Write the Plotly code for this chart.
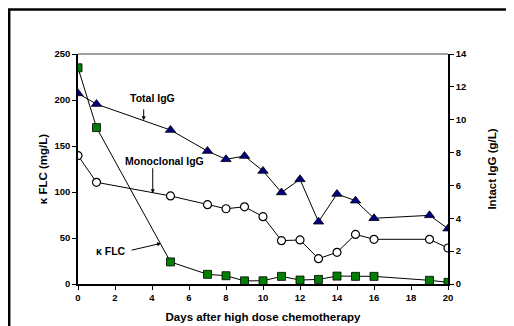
import plotly.graph_objects as go

days_flc = [0, 1, 5, 7, 8, 9, 10, 11, 12, 13, 14, 15, 16, 19, 20]
kappa_flc = [235, 170, 24, 10.5, 9, 3.4, 3.5, 8.3, 4.3, 5, 8.6, 8.3, 8.3, 4, 1.8]

days_igg = [0, 1, 5, 7, 8, 9, 10, 11, 12, 13, 14, 15, 16, 19, 20]
total_igg = [11.6, 10.95, 9.37, 8.09, 7.59, 7.79, 6.88, 5.57, 6.37, 3.79, 5.48, 5.07, 4.0, 4.18, 3.37]
mono_igg = [7.82, 6.19, 5.36, 4.83, 4.58, 4.70, 4.10, 2.64, 2.68, 1.54, 1.93, 3.02, 2.72, 2.72, 2.19]

x_ticks = list(range(0, 21, 2))
left_ticks = list(range(0, 251, 50))
right_ticks = list(range(0, 15, 2))

FONT = "Liberation Sans, Arial, sans-serif"
tickfont = dict(family=FONT, size=9.5, color="black", weight=700)
titlefont = dict(family=FONT, size=11.5, color="black", weight=700)

fig = go.Figure()
fig.add_trace(go.Scatter(
    x=days_igg, y=total_igg, yaxis="y2", mode="lines+markers",
    line=dict(color="black", width=1),
    marker=dict(symbol="triangle-up", size=9, color="#000080", line=dict(color="black", width=0.8)),
    showlegend=False))
fig.add_trace(go.Scatter(
    x=days_igg, y=mono_igg, yaxis="y2", mode="lines+markers",
    line=dict(color="black", width=1),
    marker=dict(symbol="circle", size=8, color="white", line=dict(color="black", width=1.2)),
    showlegend=False))
fig.add_trace(go.Scatter(
    x=days_flc, y=kappa_flc, yaxis="y", mode="lines+markers",
    line=dict(color="black", width=1),
    marker=dict(symbol="square", size=8, color="#008000", line=dict(color="black", width=0.8)),
    showlegend=False))

ann_font = dict(family=FONT, size=10.5, color="black", weight=700)
annotations = [
    dict(x=4.0, y=202, xref="x", yref="y", text="Total IgG", showarrow=False, font=ann_font),
    dict(x=4.65, y=133.5, xref="x", yref="y", text="Monoclonal IgG", showarrow=False, font=ann_font),
    dict(x=2.72, y=36.3, xref="x", yref="y", text="κ FLC", showarrow=False, font=ann_font, xanchor="right"),
    dict(x=3.55, y=178, ax=3.55, ay=191.5, xref="x", yref="y", axref="x", ayref="y", text="",
         showarrow=True, arrowhead=2, arrowsize=0.8, arrowwidth=1, arrowcolor="black"),
    dict(x=4.04, y=98.6, ax=4.04, ay=127.5, xref="x", yref="y", axref="x", ayref="y", text="",
         showarrow=True, arrowhead=2, arrowsize=0.8, arrowwidth=1, arrowcolor="black"),
    dict(x=4.49, y=44.2, ax=2.82, ay=36.4, xref="x", yref="y", axref="x", ayref="y", text="",
         showarrow=True, arrowhead=2, arrowsize=0.8, arrowwidth=1, arrowcolor="black"),
]

shapes = [
    dict(type="line", xref="paper", yref="paper", x0=0, x1=1, y0=1, y1=1,
         line=dict(color="#808080", width=1.5)),
    dict(type="rect", xref="paper", yref="paper", x0=-0.186, x1=1.25, y0=-0.3, y1=1.194,
         line=dict(color="black", width=2.5), fillcolor="rgba(0,0,0,0)"),
]

# page body has an 8px default margin; figure is sized/margined to compensate
fig.update_layout(
    width=506, height=318,
    margin=dict(l=70, r=66, t=46, b=42),
    paper_bgcolor="white", plot_bgcolor="white",
    xaxis=dict(range=[0, 20], tickvals=x_ticks, showgrid=False, zeroline=False,
               showline=True, linecolor="black", linewidth=1.5, automargin=False,
               ticks="outside", ticklen=4, tickcolor="black", tickfont=tickfont,
               title=dict(text="Days after high dose chemotherapy", font=titlefont, standoff=11)),
    yaxis=dict(range=[0, 250], tickvals=left_ticks, showgrid=False, zeroline=False,
               showline=True, linecolor="black", linewidth=1.5, automargin=False,
               ticks="outside", ticklen=4, tickcolor="black", tickfont=tickfont,
               title=dict(text="κ FLC (mg/L)", font=titlefont, standoff=4)),
    yaxis2=dict(range=[0, 14], tickvals=right_ticks, overlaying="y", side="right",
                showgrid=False, zeroline=False, automargin=False,
                showline=True, linecolor="black", linewidth=1.5,
                ticks="outside", ticklen=4, tickcolor="black", tickfont=tickfont,
                title=dict(text="Intact IgG (g/L)", font=titlefont, standoff=22)),
    annotations=annotations,
    shapes=shapes,
)

fig.write_html("out.html")
